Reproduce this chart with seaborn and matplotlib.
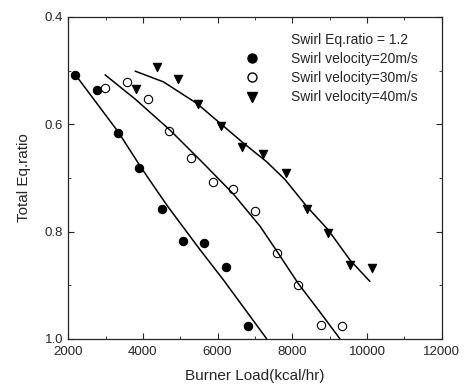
import seaborn as sns
import matplotlib.pyplot as plt
from matplotlib.lines import Line2D
from matplotlib.ticker import MultipleLocator

# measured points
load_20 = [2190, 2770, 3345, 3905, 4505, 5085, 5645, 6215, 6820]
eq_20 = [0.508, 0.537, 0.617, 0.681, 0.758, 0.817, 0.821, 0.867, 0.977]

load_30 = [2990, 3570, 4130, 4710, 5290, 5870, 6420, 7000, 7580, 8160, 8765, 9335]
eq_30 = [0.533, 0.522, 0.553, 0.612, 0.663, 0.708, 0.720, 0.761, 0.840, 0.899, 0.974, 0.976]

load_40 = [3820, 4370, 4930, 5485, 6090, 6645, 7220, 7830, 8380, 8960, 9540, 10120]
eq_40 = [0.535, 0.493, 0.516, 0.563, 0.603, 0.642, 0.656, 0.691, 0.758, 0.803, 0.862, 0.868]

# fitted curves
fit_x_20 = [2196, 3337, 3917, 4326, 4674, 5530, 6153, 7313]
fit_y_20 = [0.508, 0.614, 0.677, 0.719, 0.754, 0.834, 0.890, 1.0]

fit_x_30 = [2989, 3792, 4727, 5663, 6420, 7134, 7580, 8158, 8738, 9273]
fit_y_30 = [0.508, 0.553, 0.611, 0.676, 0.730, 0.790, 0.836, 0.897, 0.950, 1.0]

fit_x_40 = [3792, 4548, 5441, 6064, 6688, 7313, 7803, 8383, 8960, 9541, 10076]
fit_y_40 = [0.501, 0.521, 0.561, 0.598, 0.635, 0.670, 0.703, 0.753, 0.797, 0.853, 0.893]

sns.set_style("ticks")
plt.rcParams['font.family'] = ['Liberation Sans', 'DejaVu Sans']

fig = plt.figure(figsize=(4.7, 3.85), dpi=100)
ax = fig.add_axes([0.145, 0.12, 0.795, 0.836])

sns.scatterplot(x=load_20, y=eq_20, ax=ax, marker='o', s=36, color='black', edgecolor='black', linewidth=0.8)
sns.scatterplot(x=load_30, y=eq_30, ax=ax, marker='o', s=36, facecolor='white', edgecolor='black', linewidth=0.8)
sns.scatterplot(x=load_40, y=eq_40, ax=ax, marker='v', s=36, color='black', edgecolor='black', linewidth=0.8)

for fx, fy in [(fit_x_20, fit_y_20), (fit_x_30, fit_y_30), (fit_x_40, fit_y_40)]:
    sns.lineplot(x=fx, y=fy, ax=ax, color='black', linewidth=1.1, sort=False)

ax.set_xlim(2000, 12000)
ax.set_ylim(1.0, 0.4)
ax.xaxis.set_major_locator(MultipleLocator(2000))
ax.xaxis.set_minor_locator(MultipleLocator(1000))
ax.yaxis.set_major_locator(MultipleLocator(0.2))
ax.yaxis.set_minor_locator(MultipleLocator(0.1))
ax.yaxis.set_major_formatter(lambda v, p: f"{v:.1f}")
ax.tick_params(which='both', direction='in', top=True, right=True, labelsize=9.5)
ax.tick_params(which='major', length=4)
ax.tick_params(which='minor', length=2)
ax.tick_params(axis='x', pad=5)
for sp in ax.spines.values():
    sp.set_linewidth(0.9)

ax.set_xlabel('Burner Load(kcal/hr)', fontsize=11, labelpad=8)
ax.set_ylabel('Total Eq.ratio', fontsize=11, labelpad=10)

handles = [
    Line2D([], [], linestyle='none', marker=None),
    Line2D([], [], linestyle='none', marker='o', markersize=6.5, color='black'),
    Line2D([], [], linestyle='none', marker='o', markersize=6.5, markerfacecolor='white', markeredgecolor='black'),
    Line2D([], [], linestyle='none', marker='v', markersize=6.5, color='black'),
]
labels = ['Swirl Eq.ratio = 1.2', 'Swirl velocity=20m/s', 'Swirl velocity=30m/s', 'Swirl velocity=40m/s']
ax.legend(handles, labels, loc='upper right', frameon=False, fontsize=10,
          handlelength=1.0, handletextpad=2.3, labelspacing=0.38,
          bbox_to_anchor=(0.969, 0.99))

fig.savefig('out.png', dpi=100)
